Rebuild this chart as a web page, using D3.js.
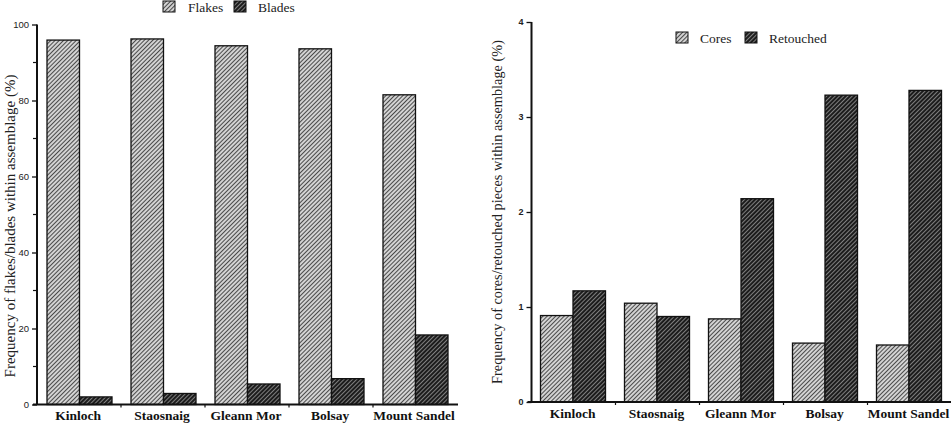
<!DOCTYPE html>
<html>
<head>
<meta charset="utf-8">
<script src="https://cdn.jsdelivr.net/npm/d3@7"></script>
<style>
  html, body { margin: 0; padding: 0; background: #fff; }
  svg { display: block; }
</style>
</head>
<body>
<svg id="chart" width="951" height="427"></svg>
<script>
// ---- Data ----
const categories = ["Kinloch", "Staosnaig", "Gleann Mor", "Bolsay", "Mount Sandel"];

const leftSeries = ["Flakes", "Blades"];
const flakes = [95.9, 96.2, 94.4, 93.6, 81.5];
const blades = [2.0, 2.9, 5.4, 6.8, 18.3];
const leftTicksMajor = [0, 20, 40, 60, 80, 100];
const leftTicksMinor = [10, 30, 50, 70, 90];
const leftTitle = "Frequency of flakes/blades within assemblage (%)";

const rightSeries = ["Cores", "Retouched"];
const cores = [0.91, 1.04, 0.875, 0.62, 0.60];
const retouched = [1.17, 0.90, 2.14, 3.23, 3.28];
const rightTicks = [0, 1, 2, 3, 4];
const rightTitle = "Frequency of cores/retouched pieces within assemblage (%)";

// ---- Setup ----
const svg = d3.select("#chart");
const defs = svg.append("defs");

function makePattern(id, bg, fg, w) {
  const p = defs.append("pattern")
    .attr("id", id)
    .attr("patternUnits", "userSpaceOnUse")
    .attr("width", 3).attr("height", 3)
    .attr("patternTransform", "rotate(45)");
  p.append("rect").attr("width", 3).attr("height", 3).attr("fill", bg);
  p.append("line").attr("x1", 1.5).attr("y1", 0).attr("x2", 1.5).attr("y2", 3)
    .attr("stroke", fg).attr("stroke-width", w);
}
makePattern("hatchLight", "#e2e2e2", "#4a4a4a", 1.2);
makePattern("hatchDark", "#1c1c1c", "#8a8a8a", 0.9);

const serif = "'Liberation Serif', 'DejaVu Serif', serif";
const sans = "'Liberation Sans', Arial, sans-serif";

function drawPanel(cfg) {
  const g = svg.append("g");
  const x0 = d3.scaleBand().domain(categories).range([cfg.xStart, cfg.xStart + 420]);
  const x1 = d3.scaleBand().domain(cfg.series).range([cfg.groupOffset, cfg.groupOffset + 65]);
  const y = d3.scaleLinear().domain(cfg.domain).range([cfg.y0, cfg.yTop]);

  // bars
  const fills = ["url(#hatchLight)", "url(#hatchDark)"];
  cfg.series.forEach((s, si) => {
    g.selectAll(null).data(cfg.values[si]).enter().append("rect")
      .attr("x", (d, i) => x0(categories[i]) + x1(s))
      .attr("y", d => y(d))
      .attr("width", x1.bandwidth())
      .attr("height", d => y(0) - y(d))
      .attr("fill", fills[si])
      .attr("stroke", "#111")
      .attr("stroke-width", 1.3);
  });

  // y axis
  const yAxis = d3.axisLeft(y).tickValues(cfg.majorTicks).tickSize(5).tickPadding(3)
    .tickFormat(d3.format("d"));
  const ya = g.append("g").attr("transform", `translate(${cfg.xStart},0)`).call(yAxis);
  ya.select(".domain").attr("stroke", "#111").attr("stroke-width", 2).attr("d", `M0,${cfg.yTop}V${cfg.y0}`);
  ya.selectAll(".tick line").attr("stroke", "#111").attr("stroke-width", 1.3);
  ya.selectAll(".tick text").attr("font-family", sans).attr("font-size", cfg.tickFont)
    .attr("font-weight", cfg.tickWeight).attr("fill", "#222");
  if (cfg.minorTicks) {
    ya.selectAll(".minor").data(cfg.minorTicks).enter().append("line")
      .attr("x1", -4).attr("x2", 0)
      .attr("y1", d => y(d)).attr("y2", d => y(d))
      .attr("stroke", "#111").attr("stroke-width", 1.2);
  }

  // x axis
  const xAxis = d3.axisBottom(x0).tickSize(0).tickPadding(6);
  const xa = g.append("g").attr("transform", `translate(0,${cfg.y0})`).call(xAxis);
  xa.select(".domain").attr("stroke", "#111").attr("stroke-width", 2)
    .attr("d", `M${cfg.xStart - 4},0H${cfg.xStart + 421}`);
  xa.selectAll(".tick text").attr("font-family", serif).attr("font-size", 13.5)
    .attr("font-weight", "bold").attr("fill", "#111").attr("dy", "0.71em")
    .attr("dx", cfg.labelDx);
  // boundary ticks
  xa.selectAll(".btick").data(categories.slice(1)).enter().append("line")
    .attr("x1", d => x0(d)).attr("x2", d => x0(d))
    .attr("y1", 0).attr("y2", 3)
    .attr("stroke", "#111").attr("stroke-width", 1.2);

  // y title
  g.append("text")
    .attr("transform", `translate(${cfg.titleX},${cfg.titleY}) rotate(-90)`)
    .attr("text-anchor", "middle")
    .attr("font-family", serif).attr("font-size", cfg.titleFont).attr("fill", "#222")
    .text(cfg.title);

  // legend
  const lg = g.append("g");
  cfg.series.forEach((s, si) => {
    const L = cfg.legend[si];
    lg.append("rect").attr("x", L.sx).attr("y", cfg.legendY - 11)
      .attr("width", 12).attr("height", 11)
      .attr("fill", fills[si]).attr("stroke", "#111").attr("stroke-width", 1);
    lg.append("text").attr("x", L.tx).attr("y", cfg.legendY)
      .attr("font-family", serif).attr("font-size", 13.5).attr("fill", "#222").text(s);
  });
}

drawPanel({
  xStart: 37, groupOffset: 10, series: leftSeries, values: [flakes, blades],
  domain: [0, 100], y0: 404.5, yTop: 24.5,
  majorTicks: leftTicksMajor, minorTicks: leftTicksMinor,
  tickFont: 9.5, tickWeight: "normal",
  title: leftTitle, titleX: 15, titleY: 226, titleFont: 15,
  legend: [{sx: 163, tx: 188}, {sx: 234, tx: 258}], legendY: 12,
  labelDx: -1
});

drawPanel({
  xStart: 531.5, groupOffset: 9, series: rightSeries, values: [cores, retouched],
  domain: [0, 4], y0: 402, yTop: 22,
  majorTicks: rightTicks, minorTicks: null,
  tickFont: 9, tickWeight: "bold",
  title: rightTitle, titleX: 502, titleY: 212, titleFont: 14.3,
  legend: [{sx: 676, tx: 700}, {sx: 745, tx: 769}], legendY: 43,
  labelDx: -1
});
</script>
</body>
</html>
